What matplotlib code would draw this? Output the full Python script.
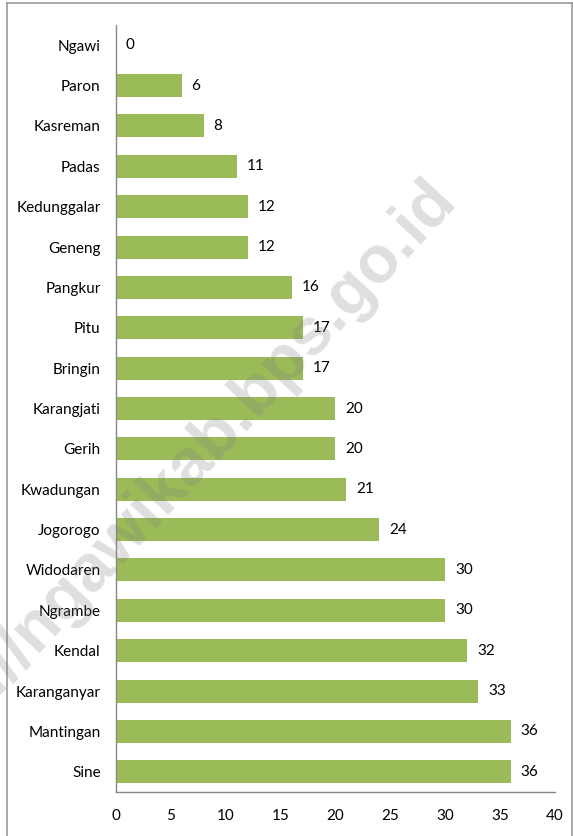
import matplotlib.pyplot as plt
from matplotlib.lines import Line2D

# kecamatan, top to bottom as shown in the chart
districts = ["Ngawi", "Paron", "Kasreman", "Padas", "Kedunggalar", "Geneng",
             "Pangkur", "Pitu", "Bringin", "Karangjati", "Gerih", "Kwadungan",
             "Jogorogo", "Widodaren", "Ngrambe", "Kendal", "Karanganyar",
             "Mantingan", "Sine"]
counts = [0, 6, 8, 11, 12, 12, 16, 17, 17, 20, 20, 21, 24, 30, 30, 32, 33, 36, 36]
xticks = [0, 5, 10, 15, 20, 25, 30, 35, 40]

plt.rcParams["font.family"] = ["Lato", "DejaVu Sans"]

fig = plt.figure(figsize=(5.73, 8.36), dpi=100)
ax = fig.add_axes([0.2024, 0.0526, 0.7662, 0.9175])

pos = list(range(len(districts)))
bars = ax.barh(pos, counts, height=0.57, color="#9BBB59")
for b, v in zip(bars, counts):
    ax.annotate(str(v), (b.get_width(), b.get_y() + b.get_height() / 2),
                xytext=(7, 0), textcoords="offset points",
                va="center", ha="left", fontsize=11, color="black")

ax.set_yticks(pos)
ax.set_yticklabels(districts, fontsize=11)
ax.set_ylim(len(districts) - 0.5, -0.5)
ax.set_xlim(0, 40)
ax.set_xticks(xticks)
ax.set_xticklabels([str(t) for t in xticks], fontsize=11)
ax.tick_params(axis="y", length=0, pad=11)
ax.tick_params(axis="x", length=0, pad=12)
for s in ["top", "right"]:
    ax.spines[s].set_visible(False)
for s in ["left", "bottom"]:
    ax.spines[s].set_color("#888888")
    ax.spines[s].set_linewidth(1.0)

# watermark (runs off the left edge, as in the original)
fig.text(458 / 573, 1 - 200 / 836, "http://ngawikab.bps.go.id", rotation=47,
         rotation_mode="anchor", ha="right", va="baseline",
         fontsize=48, fontweight="bold", family="Liberation Sans",
         color="grey", alpha=0.25)

# outer frame
fig.add_artist(Line2D([7 / 573, 7 / 573], [0, 1 - 3 / 836], color="#999999", lw=1.2))
fig.add_artist(Line2D([7 / 573, 1], [1 - 3 / 836, 1 - 3 / 836], color="#999999", lw=1.2))
fig.add_artist(Line2D([571.5 / 573, 571.5 / 573], [0, 1 - 3 / 836], color="#999999", lw=1.2))

fig.savefig("out.png", dpi=100)
